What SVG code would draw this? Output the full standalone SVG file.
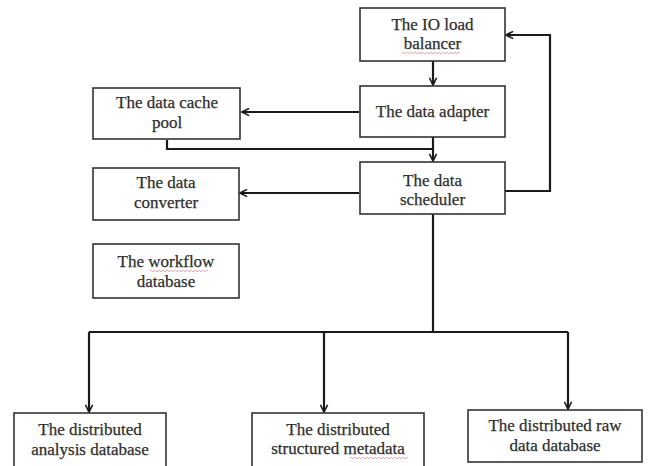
<svg xmlns="http://www.w3.org/2000/svg" width="648" height="466" viewBox="0 0 648 466">
<defs>
<marker id="arr" viewBox="0 0 10 10" refX="9" refY="5" markerWidth="9" markerHeight="9" markerUnits="userSpaceOnUse" orient="auto">
<path d="M1,1 L9,5 L1,9" fill="none" stroke="#1a1a1a" stroke-width="1.8"/>
</marker>
<path id="squig" d="M0,0 q1,-1.5 2,0 t2,0 t2,0 t2,0 t2,0 t2,0 t2,0 t2,0 t2,0 t2,0 t2,0 t2,0 t2,0 t2,0 t2,0 t2,0 t2,0 t2,0 t2,0 t2,0 t2,0 t2,0 t2,0 t2,0 t2,0 t2,0 t2,0 t2,0 t2,0" fill="none" stroke="#d06070" stroke-width="0.8" opacity="0.7"/>
</defs>
<style>
.box{fill:#fff;stroke:#333;stroke-width:1.6}
.lbl{font-family:"Liberation Serif","Times New Roman",serif;font-size:17px;fill:#2e2e2e;stroke:#2e2e2e;stroke-width:0.25;text-anchor:middle}
.con{fill:none;stroke:#1a1a1a;stroke-width:2.2;stroke-linejoin:miter}
</style>
<rect width="648" height="466" fill="#fff"/>
<g id="connectors">
<path class="con" d="M433,61 V85" marker-end="url(#arr)"/>
<path class="con" d="M359,112 H242" marker-end="url(#arr)"/>
<path class="con" d="M433,137 V161" marker-end="url(#arr)"/>
<path class="con" d="M167,140 V149 H433"/>
<path class="con" d="M359,193 H240" marker-end="url(#arr)"/>
<path class="con" d="M505,191 H550 V35 H506" marker-end="url(#arr)"/>
<path class="con" d="M433,214 V332"/>
<path class="con" d="M89,332 H568"/>
<path class="con" d="M89,332 V412" marker-end="url(#arr)"/>
<path class="con" d="M324,332 V412" marker-end="url(#arr)"/>
<path class="con" d="M568,332 V409" marker-end="url(#arr)"/>
</g>
<g id="io-load-balancer">
<rect class="box" x="360" y="8" width="145" height="53"/>
<text class="lbl" x="432.5" y="30">The IO load</text>
<text class="lbl" x="432.5" y="49">balancer</text>
<use href="#squig" x="402" y="53"/>
</g>
<g id="data-adapter">
<rect class="box" x="360" y="86" width="145" height="51"/>
<text class="lbl" x="432.5" y="117">The data adapter</text>
</g>
<g id="data-cache-pool">
<rect class="box" x="93" y="88" width="147" height="51"/>
<text class="lbl" x="167" y="108">The data cache</text>
<text class="lbl" x="167" y="128">pool</text>
</g>
<g id="data-scheduler">
<rect class="box" x="360" y="162" width="145" height="52"/>
<text class="lbl" x="432.5" y="186">The data</text>
<text class="lbl" x="432.5" y="205">scheduler</text>
</g>
<g id="data-converter">
<rect class="box" x="93" y="168" width="146" height="52"/>
<text class="lbl" x="166" y="188">The data</text>
<text class="lbl" x="166" y="208">converter</text>
</g>
<g id="workflow-database">
<rect class="box" x="93" y="244" width="146" height="54"/>
<text class="lbl" x="166" y="267">The workflow</text>
<text class="lbl" x="166" y="287">database</text>
<use href="#squig" x="150" y="271"/>
</g>
<g id="distributed-analysis-database">
<rect class="box" x="14" y="413" width="152" height="60"/>
<text class="lbl" x="90" y="435">The distributed</text>
<text class="lbl" x="90" y="455">analysis database</text>
</g>
<g id="distributed-structured-metadata">
<rect class="box" x="252" y="413" width="172" height="60"/>
<text class="lbl" x="338" y="435">The distributed</text>
<text class="lbl" x="338" y="454">structured metadata</text>
<use href="#squig" x="350" y="458"/>
</g>
<g id="distributed-raw-data-database">
<rect class="box" x="468" y="410" width="174" height="52"/>
<text class="lbl" x="555" y="431">The distributed raw</text>
<text class="lbl" x="555" y="451">data database</text>
</g>
</svg>
